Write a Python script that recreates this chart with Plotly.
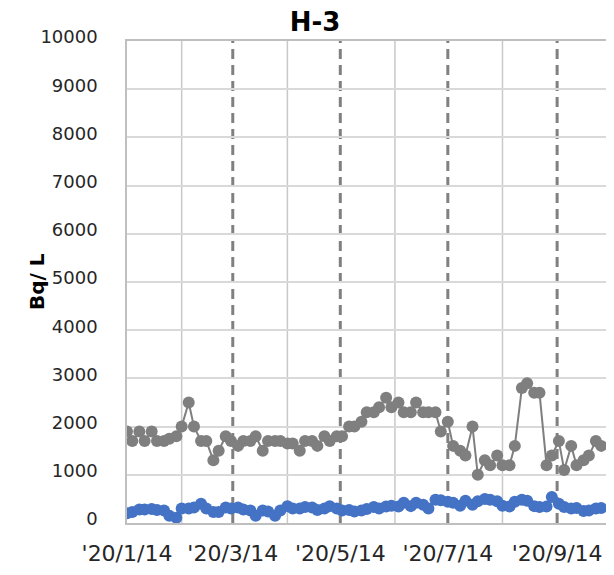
import plotly.graph_objects as go

# Sampling dates (twice weekly)
dates = [
    "2020-01-14", "2020-01-17", "2020-01-21", "2020-01-24", "2020-01-28", "2020-01-31",
    "2020-02-04", "2020-02-07", "2020-02-11", "2020-02-14", "2020-02-18", "2020-02-21",
    "2020-02-25", "2020-02-28", "2020-03-03", "2020-03-06", "2020-03-10", "2020-03-13",
    "2020-03-17", "2020-03-20", "2020-03-24", "2020-03-27", "2020-03-31", "2020-04-03",
    "2020-04-07", "2020-04-10", "2020-04-14", "2020-04-17", "2020-04-21", "2020-04-24",
    "2020-04-28", "2020-05-01", "2020-05-05", "2020-05-08", "2020-05-12", "2020-05-15",
    "2020-05-19", "2020-05-22", "2020-05-26", "2020-05-29", "2020-06-02", "2020-06-05",
    "2020-06-09", "2020-06-12", "2020-06-16", "2020-06-19", "2020-06-23", "2020-06-26",
    "2020-06-30", "2020-07-03", "2020-07-07", "2020-07-10", "2020-07-14", "2020-07-17",
    "2020-07-21", "2020-07-24", "2020-07-28", "2020-07-31", "2020-08-04", "2020-08-07",
    "2020-08-11", "2020-08-14", "2020-08-18", "2020-08-21", "2020-08-25", "2020-08-28",
    "2020-09-01", "2020-09-04", "2020-09-08", "2020-09-11", "2020-09-15", "2020-09-18",
    "2020-09-22", "2020-09-25", "2020-09-29", "2020-10-02", "2020-10-06", "2020-10-09",
]

gray_values = [
    1900, 1700, 1900, 1700, 1900, 1700,
    1700, 1750, 1800, 2000, 2500, 2000,
    1700, 1700, 1300, 1500, 1800, 1700,
    1600, 1700, 1700, 1800, 1500, 1700,
    1700, 1700, 1650, 1650, 1500, 1700,
    1700, 1600, 1800, 1700, 1800, 1800,
    2000, 2000, 2100, 2300, 2300, 2400,
    2600, 2400, 2500, 2300, 2300, 2500,
    2300, 2300, 2300, 1900, 2100, 1600,
    1500, 1400, 2000, 1000, 1300, 1200,
    1400, 1200, 1200, 1600, 2800, 2900,
    2700, 2700, 1200, 1400, 1700, 1100,
    1600, 1200, 1300, 1400, 1700, 1600,
]

blue_values = [
    200, 230, 280, 280, 290, 270,
    260, 150, 110, 300, 300, 320,
    400, 300, 230, 230, 320, 300,
    320, 280, 260, 150, 260, 240,
    150, 260, 350, 300, 300, 330,
    320, 270, 300, 350, 300, 260,
    270, 240, 260, 290, 330, 300,
    340, 360, 340, 420, 350, 420,
    380, 300, 480, 470, 440, 420,
    360, 460, 380, 450, 500, 480,
    450, 360, 340, 440, 480, 460,
    350, 330, 340, 540, 400, 330,
    300, 310, 250, 260, 300, 310,
]

tick_dates = ["2020-01-14", "2020-03-14", "2020-05-14", "2020-07-14", "2020-09-14"]
tick_labels = ["'20/1/14", "'20/3/14", "'20/5/14", "'20/7/14", "'20/9/14"]
minor_grid_dates = ["2020-02-14", "2020-04-14", "2020-06-14", "2020-08-14"]
dashed_dates = ["2020-03-14", "2020-05-14", "2020-07-14", "2020-09-14"]

GRAY = "#7f7f7f"
BLUE = "#4472c4"

# page body has an 8px margin; size the figure so the plot area lands where intended
W, H = 606, 567
ML, MR, MT, MB = 119, 4, 33, 52
PW = W - ML - MR

fig = go.Figure()
fig.add_trace(go.Scatter(
    x=dates, y=gray_values, mode="lines+markers",
    line=dict(color=GRAY, width=2),
    marker=dict(color=GRAY, size=12),
    showlegend=False,
))
fig.add_trace(go.Scatter(
    x=dates, y=blue_values, mode="lines+markers",
    line=dict(color=BLUE, width=2),
    marker=dict(color=BLUE, size=12),
    showlegend=False,
))

shapes = []
for d in minor_grid_dates:
    shapes.append(dict(type="line", xref="x", yref="paper", x0=d, x1=d, y0=0, y1=1,
                       line=dict(color="#c8c8c8", width=1.5), layer="below"))
for d in dashed_dates:
    shapes.append(dict(type="line", xref="x", yref="paper", x0=d, x1=d, y0=0, y1=1,
                       line=dict(color="#808080", width=3, dash="10px,6px"), layer="below"))

fig.update_layout(
    width=W, height=H,
    margin=dict(l=ML, r=MR, t=MT, b=MB, autoexpand=False),
    paper_bgcolor="white", plot_bgcolor="white",
    title=dict(text="<b>H-3</b>", x=307/W, xanchor="center", y=1-14/H, yanchor="middle",
               xref="container", yref="container",
               font=dict(family="DejaVu Sans", size=26, color="#000000")),
    shapes=shapes,
    font=dict(family="DejaVu Sans", size=18, color="#262626"),
    annotations=[dict(text="<b>Bq/ L</b>", xref="paper", yref="paper",
                      x=(29 - ML) / PW, y=0.5, xanchor="center", yanchor="middle",
                      textangle=-90, showarrow=False,
                      font=dict(family="DejaVu Sans", size=20, color="#000000"))],
)

fig.update_xaxes(
    type="date", range=["2020-01-14", "2020-10-14"],
    tickvals=tick_dates, ticktext=tick_labels,
    showgrid=False, zeroline=False, automargin=False,
    showline=True, linecolor="#bfbfbf", linewidth=1.5, mirror=True,
    ticks="", ticklabelstandoff=10,
    tickfont=dict(size=22, color="#262626"),
)
fig.update_yaxes(
    range=[0, 10000], dtick=1000, tick0=0, tickformat="d",
    showgrid=True, gridcolor="#d9d9d9", gridwidth=1.5,
    zeroline=False, automargin=False,
    showline=True, linecolor="#bfbfbf", linewidth=1.5, mirror=True,
    ticks="", ticklabelstandoff=24, ticklabelshift=-4,
    tickfont=dict(size=18, color="#262626"),
)

fig.write_html("out.html")
